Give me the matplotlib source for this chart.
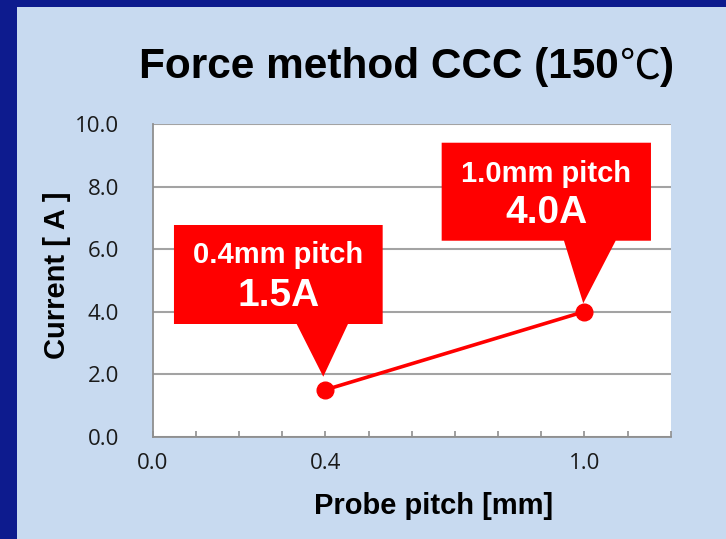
import numpy as np
import matplotlib
matplotlib.use("Agg")
import matplotlib.pyplot as plt
import matplotlib.transforms as mtransforms
from matplotlib.patches import Polygon, Rectangle

# ---- data ----
pitch = [0.4, 1.0]
current = [1.5, 4.0]
callout_top = ["0.4mm pitch", "1.0mm pitch"]
callout_bottom = ["1.5A", "4.0A"]
xtick_pos = [0.0, 0.4, 1.0]
xtick_labels = ["0.0", "0.4", "1.0"]
ytick_pos = [0, 2, 4, 6, 8, 10]
ytick_labels = ["0.0", "2.0", "4.0", "6.0", "8.0", "10.0"]
title_main = "Force method CCC (150"
title_deg = "\u2103"
title_end = ")"

W, H, DPI = 726, 539, 100
DARK = "#0d1b8e"
PANEL = "#c8daf0"
RED = "#ff0000"
GRID = "#a3a3a3"
SPINE = "#8f8f8f"

fig = plt.figure(figsize=(W / DPI, H / DPI), dpi=DPI)
fig.patch.set_facecolor(PANEL)

# border: top and left dark blue bands
fig.add_artist(Rectangle((0, 1 - 7 / H), 1, 7 / H, transform=fig.transFigure,
                         facecolor=DARK, edgecolor="none", zorder=0))
fig.add_artist(Rectangle((0, 0), 17 / W, 1, transform=fig.transFigure,
                         facecolor=DARK, edgecolor="none", zorder=0))

ax_l, ax_r, ax_t, ax_b = 152.7, 670.7, 124.0, 436.7
ax = fig.add_axes([ax_l / W, 1 - ax_b / H, (ax_r - ax_l) / W, (ax_b - ax_t) / H])
ax.set_facecolor("white")
ax.set_xlim(0, 1.2)
ax.set_ylim(0, 10)

for s in ["top", "right"]:
    ax.spines[s].set_visible(False)
for s in ["left", "bottom"]:
    ax.spines[s].set_color(SPINE)
    ax.spines[s].set_linewidth(1.3)

ax.set_yticks(ytick_pos)
ax.set_yticklabels(ytick_labels)
ax.set_xticks(xtick_pos)
ax.set_xticklabels(xtick_labels)
ax.set_xticks(np.round(np.arange(0, 1.21, 0.1), 2), minor=True)
ax.yaxis.grid(True, color=GRID, linewidth=1.5)
ax.set_axisbelow(True)

tickfont = dict(family=["Open Sans", "DejaVu Sans"], size=16)
for lab in ax.get_yticklabels() + ax.get_xticklabels():
    lab.set_fontfamily(tickfont["family"])
    lab.set_fontsize(tickfont["size"])
    lab.set_color("#1a1a1a")
ax.tick_params(axis="y", length=0, pad=24)
ax.tick_params(axis="x", which="both", direction="in", length=4, width=1.2,
               color=SPINE, pad=12)

# line
ax.plot(pitch, current, color=RED, linewidth=2.6, marker="o", markersize=12,
        zorder=5, clip_on=False)

# callouts (geometry in pixels relative to data point)
box_geom = [
    # left, right, bottom, top, tri_left, tri_right, tip_x, tip_y, text_x, base1, base2
    (-151.4, 57.3, 65.8, 164.8, -28.7, 22.6, -2.1, 13.1, -47.0, 127.1, 83.8),
    (-142.7, 66.6, 70.9, 168.9, -20.4, 31.3, -1.1, 8.3, -38.0, 129.9, 88.6),
]
for (x, y, t1, t2, g) in zip(pitch, current, callout_top, callout_bottom, box_geom):
    l, r, b, t, tl, tr_, tx, ty, cx, b1, b2 = g
    tr = fig.dpi_scale_trans + mtransforms.ScaledTranslation(x, y, ax.transData)
    verts = [(l, b), (l, t), (r, t), (r, b), (tr_, b), (tx, ty), (tl, b)]
    verts = [(vx / DPI, vy / DPI) for vx, vy in verts]
    poly = Polygon(verts, closed=True, transform=tr, facecolor=RED,
                   edgecolor="none", zorder=6, clip_on=False)
    ax.add_artist(poly)
    ax.annotate(t1, xy=(x, y), xytext=(cx, b1), textcoords="offset pixels",
                ha="center", va="baseline", color="white", fontsize=21,
                fontweight="bold", family="Liberation Sans", zorder=7,
                annotation_clip=False)
    ax.annotate(t2, xy=(x, y), xytext=(cx, b2), textcoords="offset pixels",
                ha="center", va="baseline", color="white", fontsize=28,
                fontweight="bold", family="Liberation Sans", zorder=7,
                annotation_clip=False)

# axis labels
fig.text(57 / W, 1 - 275 / H, "Current [ A ]", rotation=90, ha="center",
         va="center", fontsize=21, fontweight="bold", family="Liberation Sans")
fig.text(434 / W, 1 - 506 / H, "Probe pitch [mm]", ha="center", va="center",
         fontsize=21, fontweight="bold", family="Liberation Sans")

# title in three pieces (degree sign drawn lighter)
title_center_x = 406.7
title_base_y = 1 - 78.3 / H
ta = fig.text(0, title_base_y, title_main, ha="left", va="baseline",
              fontsize=30.5, fontweight="bold", family="Liberation Sans")
tb = fig.text(0, title_base_y, title_deg, ha="left", va="baseline",
              fontsize=29.5, fontweight="normal", family="Noto Sans CJK JP")
tc = fig.text(0, title_base_y, title_end, ha="left", va="baseline",
              fontsize=30.5, fontweight="bold", family="Liberation Sans")
fig.canvas.draw()
rend = fig.canvas.get_renderer()
wa = ta.get_window_extent(rend).width
wb = tb.get_window_extent(rend).width
wc = tc.get_window_extent(rend).width
total = wa + wb + wc
x0 = title_center_x - total / 2
ta.set_x(x0 / W)
tb.set_x((x0 + wa) / W)
tc.set_x((x0 + wa + wb) / W)

fig.savefig("out.png", dpi=DPI, facecolor=fig.get_facecolor())
